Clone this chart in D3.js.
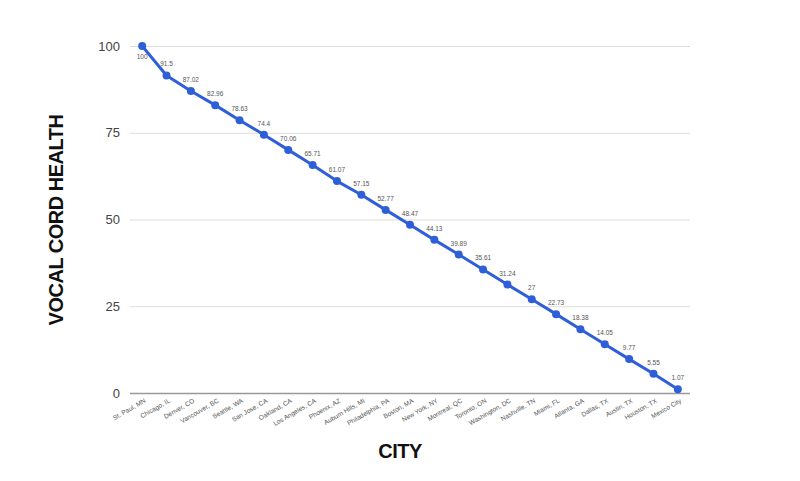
<!DOCTYPE html>
<html><head><meta charset="utf-8">
<script src="https://cdn.jsdelivr.net/npm/d3@7"></script>
<style>body{margin:0;background:#fff;}</style>
</head><body>
<svg id="c" width="800" height="481"></svg>
<script>
const cities = ["St. Paul, MN","Chicago, IL","Denver, CO","Vancouver, BC","Seattle, WA","San Jose, CA","Oakland, CA","Los Angeles, CA","Phoenix, AZ","Auburn Hills, MI","Philadelphia, PA","Boston, MA","New York, NY","Montreal, QC","Toronto, ON","Washington, DC","Nashville, TN","Miami, FL","Atlanta, GA","Dallas, TX","Austin, TX","Houston, TX","Mexico City"];
const values = [100,91.5,87.02,82.96,78.63,74.4,70.06,65.71,61.07,57.15,52.77,48.47,44.13,39.89,35.61,31.24,27,22.73,18.38,14.05,9.77,5.55,1.07];
const yTicks = [0,25,50,75,100];
const yTitle = "VOCAL CORD HEALTH";
const xTitle = "CITY";

const svg = d3.select("#c");
const x = d3.scaleBand().domain(cities).range([130,690]);
const y = d3.scaleLinear().domain([0,100]).range([393,46]);
const cx = d => x(d) + x.bandwidth()/2;

// gridlines
const yAxis = d3.axisLeft(y).tickValues(yTicks).tickSize(-(690-130)).tickPadding(10);
const ga = svg.append("g").attr("transform","translate(130,0)").call(yAxis);
ga.select(".domain").remove();
ga.selectAll(".tick line").attr("stroke", d => d===0 ? "#999" : "#ddd").attr("stroke-width", d=> d===0?1.5:1);
ga.selectAll(".tick text").attr("fill","#444").attr("font-family","Helvetica, Arial, 'Liberation Sans', sans-serif").attr("font-size","13px");

// x labels
svg.append("g").selectAll("text").data(cities).join("text")
  .attr("transform", d => `translate(${cx(d)+4},${402}) rotate(-30)`)
  .attr("text-anchor","end")
  .attr("font-family","Arial, 'Liberation Sans', sans-serif")
  .attr("font-size","6.5px").attr("fill","#555")
  .text(d=>d);

// line
const data = cities.map((c,i)=>({c, v: values[i]}));
svg.append("path").datum(data)
  .attr("fill","none").attr("stroke","#2f5fd8").attr("stroke-width",3)
  .attr("stroke-linejoin","round")
  .attr("d", d3.line().x(d=>cx(d.c)).y(d=>y(d.v)));
svg.append("g").selectAll("circle").data(data).join("circle")
  .attr("cx", d=>cx(d.c)).attr("cy", d=>y(d.v)).attr("r",4).attr("fill","#2f5fd8");

// value labels
svg.append("g").selectAll("text").data(data).join("text")
  .attr("x", d=>cx(d.c)).attr("y", (d,i)=> i===0 ? y(d.v)+13 : y(d.v)-9)
  .attr("text-anchor","middle")
  .attr("font-family","Arial, 'Liberation Sans', sans-serif")
  .attr("font-size","6.5px").attr("fill","#555")
  .text(d=>d.v);

// titles
svg.append("text").attr("transform","translate(63,220) rotate(-90)")
  .attr("text-anchor","middle").attr("font-family","'Liberation Sans', Arial, sans-serif")
  .attr("font-weight","bold").attr("font-size","20px").attr("fill","#111").attr("letter-spacing","-0.5")
  .text(yTitle);
svg.append("text").attr("x",400).attr("y",458)
  .attr("text-anchor","middle").attr("font-family","'Liberation Sans', Arial, sans-serif")
  .attr("font-weight","bold").attr("font-size","20px").attr("fill","#111").attr("letter-spacing","-0.5")
  .text(xTitle);
</script>
</body></html>
